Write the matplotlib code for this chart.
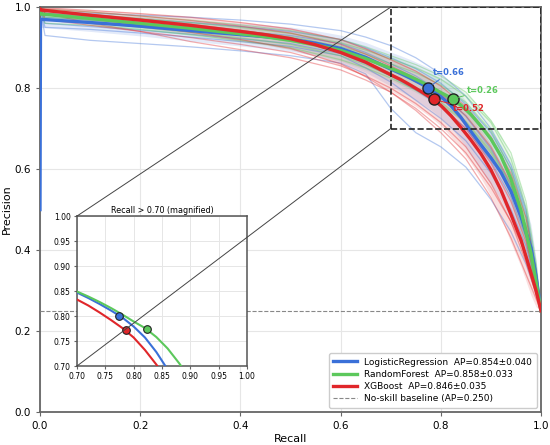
import numpy as np
import matplotlib
matplotlib.use("Agg")
import matplotlib.pyplot as plt
from matplotlib.patches import Rectangle, ConnectionPatch

# ---------------- data ----------------
models = ["LogisticRegression", "RandomForest", "XGBoost"]
ap_mean = [0.854, 0.858, 0.846]
ap_std = [0.040, 0.033, 0.035]
colors = ["#3a70d8", "#5cc85c", "#e0262a"]
baseline_ap = 0.250

mean_recall = [0, 0.001, 0.1, 0.2, 0.3, 0.4, 0.45, 0.5, 0.55, 0.6, 0.65, 0.7,
               0.72, 0.74, 0.76, 0.78, 0.8, 0.82, 0.84, 0.86, 0.88, 0.9, 0.92,
               0.94, 0.96, 0.98, 0.99, 1.0]
lr_mean = [0.50, 0.970, 0.962, 0.953, 0.942, 0.932, 0.927, 0.921, 0.911, 0.898,
           0.876, 0.847, 0.836, 0.824, 0.811, 0.797, 0.779, 0.757, 0.728, 0.693,
           0.660, 0.628, 0.592, 0.545, 0.482, 0.405, 0.335, 0.25]
rf_mean = [0.985, 0.983, 0.972, 0.960, 0.948, 0.934, 0.927, 0.918, 0.907, 0.893,
           0.873, 0.849, 0.839, 0.828, 0.816, 0.803, 0.789, 0.776, 0.758, 0.735,
           0.706, 0.674, 0.632, 0.575, 0.498, 0.392, 0.322, 0.25]
xgb_mean = [0.995, 0.993, 0.980, 0.968, 0.955, 0.940, 0.932, 0.922, 0.907, 0.888,
            0.864, 0.833, 0.821, 0.807, 0.792, 0.776, 0.757, 0.732, 0.703, 0.672,
            0.638, 0.598, 0.548, 0.488, 0.425, 0.343, 0.300, 0.25]
lr_std = [0, 0.020, 0.022, 0.024, 0.026, 0.028, 0.029, 0.030, 0.031, 0.033,
          0.037, 0.042, 0.044, 0.046, 0.048, 0.050, 0.052, 0.054, 0.056, 0.059,
          0.062, 0.066, 0.068, 0.070, 0.068, 0.058, 0.045, 0]
rf_std = [0, 0.012, 0.014, 0.016, 0.018, 0.020, 0.021, 0.022, 0.024, 0.026,
          0.028, 0.030, 0.031, 0.032, 0.033, 0.034, 0.035, 0.037, 0.039, 0.041,
          0.044, 0.048, 0.052, 0.056, 0.058, 0.050, 0.040, 0]
xgb_std = [0, 0.010, 0.014, 0.018, 0.021, 0.024, 0.025, 0.027, 0.029, 0.032,
           0.036, 0.040, 0.042, 0.044, 0.046, 0.048, 0.050, 0.052, 0.054, 0.057,
           0.060, 0.064, 0.068, 0.070, 0.066, 0.055, 0.040, 0]

fold_recall = [0, 0.01, 0.1, 0.2, 0.3, 0.4, 0.5, 0.6, 0.65, 0.7, 0.75, 0.8,
               0.85, 0.9, 0.94, 0.97, 0.99, 1.0]
lr_folds = [
    [1.0, 0.930, 0.918, 0.910, 0.902, 0.892, 0.880, 0.862, 0.835, 0.750, 0.690, 0.655, 0.605, 0.525, 0.445, 0.365, 0.295, 0.25],
    [1.0, 0.990, 0.985, 0.980, 0.975, 0.968, 0.958, 0.942, 0.926, 0.905, 0.875, 0.835, 0.780, 0.700, 0.610, 0.500, 0.360, 0.25],
    [1.0, 0.975, 0.968, 0.960, 0.950, 0.940, 0.930, 0.910, 0.888, 0.860, 0.830, 0.790, 0.730, 0.650, 0.560, 0.460, 0.340, 0.25],
    [1.0, 0.960, 0.952, 0.943, 0.933, 0.922, 0.910, 0.885, 0.860, 0.830, 0.795, 0.755, 0.700, 0.620, 0.530, 0.430, 0.320, 0.25],
    [1.0, 0.985, 0.978, 0.970, 0.962, 0.952, 0.940, 0.920, 0.900, 0.875, 0.848, 0.812, 0.760, 0.690, 0.600, 0.490, 0.350, 0.25],
    [1.0, 0.950, 0.945, 0.936, 0.926, 0.915, 0.903, 0.880, 0.850, 0.815, 0.770, 0.725, 0.670, 0.590, 0.500, 0.410, 0.310, 0.25],
]
rf_folds = [
    [1.0, 0.970, 0.962, 0.950, 0.938, 0.924, 0.908, 0.880, 0.857, 0.830, 0.800, 0.765, 0.718, 0.645, 0.560, 0.460, 0.340, 0.25],
    [1.0, 0.995, 0.988, 0.978, 0.968, 0.956, 0.942, 0.920, 0.902, 0.880, 0.858, 0.830, 0.790, 0.720, 0.640, 0.520, 0.370, 0.25],
    [1.0, 0.985, 0.975, 0.965, 0.955, 0.942, 0.927, 0.903, 0.884, 0.860, 0.838, 0.808, 0.765, 0.695, 0.600, 0.480, 0.345, 0.25],
    [1.0, 0.960, 0.955, 0.945, 0.932, 0.918, 0.900, 0.870, 0.850, 0.825, 0.795, 0.760, 0.715, 0.640, 0.555, 0.430, 0.300, 0.25],
    [1.0, 0.990, 0.982, 0.972, 0.962, 0.950, 0.935, 0.912, 0.894, 0.872, 0.850, 0.822, 0.780, 0.715, 0.625, 0.505, 0.330, 0.25],
    [1.0, 0.975, 0.968, 0.958, 0.946, 0.932, 0.915, 0.890, 0.870, 0.845, 0.815, 0.785, 0.745, 0.675, 0.585, 0.470, 0.320, 0.25],
]
xgb_folds = [
    [1.0, 0.985, 0.972, 0.955, 0.938, 0.920, 0.898, 0.860, 0.828, 0.790, 0.750, 0.700, 0.640, 0.555, 0.470, 0.390, 0.310, 0.25],
    [1.0, 0.998, 0.992, 0.984, 0.975, 0.962, 0.946, 0.920, 0.897, 0.870, 0.842, 0.805, 0.755, 0.680, 0.590, 0.480, 0.350, 0.25],
    [1.0, 0.990, 0.982, 0.970, 0.958, 0.943, 0.925, 0.893, 0.867, 0.835, 0.800, 0.758, 0.700, 0.615, 0.520, 0.420, 0.320, 0.25],
    [1.0, 0.970, 0.955, 0.940, 0.925, 0.908, 0.888, 0.855, 0.830, 0.800, 0.762, 0.715, 0.655, 0.565, 0.470, 0.370, 0.290, 0.25],
    [1.0, 0.995, 0.988, 0.978, 0.967, 0.953, 0.936, 0.908, 0.884, 0.855, 0.825, 0.785, 0.732, 0.655, 0.565, 0.455, 0.335, 0.25],
    [1.0, 0.985, 0.960, 0.940, 0.915, 0.895, 0.875, 0.845, 0.820, 0.790, 0.745, 0.690, 0.625, 0.530, 0.430, 0.340, 0.280, 0.25],
]

# operating points (recall, precision, threshold)
op_recall = [0.775, 0.824, 0.786]
op_precision = [0.801, 0.774, 0.772]
op_threshold = [0.66, 0.26, 0.52]
label_pos = [(0.785, 0.839), (0.852, 0.793), (0.824, 0.750)]

means = [lr_mean, rf_mean, xgb_mean]
stds = [lr_std, rf_std, xgb_std]
folds = [lr_folds, rf_folds, xgb_folds]

# ---------------- figure ----------------
fig = plt.figure(figsize=(5.5, 4.45), dpi=100)
ax = fig.add_axes([0.0727, 0.074, 0.911, 0.910])
spine_c = "#666666"

mr = np.array(mean_recall)
for i in range(3):
    for f in folds[i]:
        ax.plot(fold_recall, f, color=colors[i], lw=0.9, alpha=0.38, zorder=2)
    m = np.array(means[i]); s = np.array(stds[i])
    ax.fill_between(mr, np.clip(m - s, 0, 1), np.clip(m + s, 0, 1),
                    color=colors[i], alpha=0.14, lw=0, zorder=1)
for i in range(3):
    ax.plot(mr, means[i], color=colors[i], lw=2.4, zorder=4,
            label=f"{models[i]}  AP={ap_mean[i]:.3f}±{ap_std[i]:.3f}")
ax.axhline(baseline_ap, color="#888888", ls="--", lw=0.8, zorder=3,
           label=f"No-skill baseline (AP={baseline_ap:.3f})")

for i in range(3):
    ax.plot(op_recall[i], op_precision[i], "o", ms=8, mfc=colors[i],
            mec="#222222", mew=1.0, zorder=6)
    ax.annotate(f"t={op_threshold[i]:.2f}", xy=(op_recall[i], op_precision[i]),
                xytext=label_pos[i], textcoords="data", fontsize=6,
                fontweight="bold", color=colors[i], ha="left", va="center",
                arrowprops=dict(arrowstyle="-", color=colors[i], lw=0.7,
                                shrinkA=0, shrinkB=4), zorder=6)

ax.add_patch(Rectangle((0.7, 0.7), 0.3, 0.3, fill=False, ec="#222222",
                       ls="--", lw=1.2, zorder=7))

ax.set_xlim(0, 1)
ax.set_ylim(0, 1)
ax.set_xticks(np.arange(0, 1.01, 0.2))
ax.set_yticks(np.arange(0, 1.01, 0.2))
ax.tick_params(labelsize=7.5, color=spine_c, length=3)
ax.set_xlabel("Recall", fontsize=8, labelpad=2)
ax.set_ylabel("Precision", fontsize=8, labelpad=2)
ax.grid(True, color="#e6e6e6", lw=0.8, zorder=0)
ax.set_axisbelow(True)
for sp in ax.spines.values():
    sp.set_color(spine_c)
    sp.set_linewidth(1.3)

leg = ax.legend(loc="lower right", fontsize=6.5, frameon=True, fancybox=True,
                framealpha=1.0, edgecolor="#cccccc", handlelength=2.6,
                borderpad=0.5, labelspacing=0.35)
leg.set_zorder(10)

# ---------------- inset ----------------
axin = fig.add_axes([0.140, 0.1775, 0.309, 0.337])
for i in range(3):
    axin.plot(mr, means[i], color=colors[i], lw=1.5, zorder=3)
    axin.plot(op_recall[i], op_precision[i], "o", ms=5.5, mfc=colors[i],
              mec="#222222", mew=0.8, zorder=5)
axin.set_xlim(0.7, 1.0)
axin.set_ylim(0.7, 1.0)
ticks = np.arange(0.70, 1.001, 0.05)
axin.set_xticks(ticks)
axin.set_yticks(ticks)
axin.set_xticklabels([f"{t:.2f}" for t in ticks])
axin.set_yticklabels([f"{t:.2f}" for t in ticks])
axin.tick_params(labelsize=5.5, length=2.5, pad=2, color=spine_c)
axin.grid(True, color="#e6e6e6", lw=0.7, zorder=0)
axin.set_axisbelow(True)
axin.set_title("Recall > 0.70 (magnified)", fontsize=5.8, pad=2)
for sp in axin.spines.values():
    sp.set_color("#555555")
    sp.set_linewidth(1.1)

for corner in [(0.7, 1.0), (0.7, 0.7)]:
    cp = ConnectionPatch(xyA=corner, coordsA=ax.transData,
                         xyB=corner, coordsB=axin.transData,
                         color="#444444", lw=0.7, zorder=8)
    fig.add_artist(cp)

fig.savefig("out.png", dpi=100)
